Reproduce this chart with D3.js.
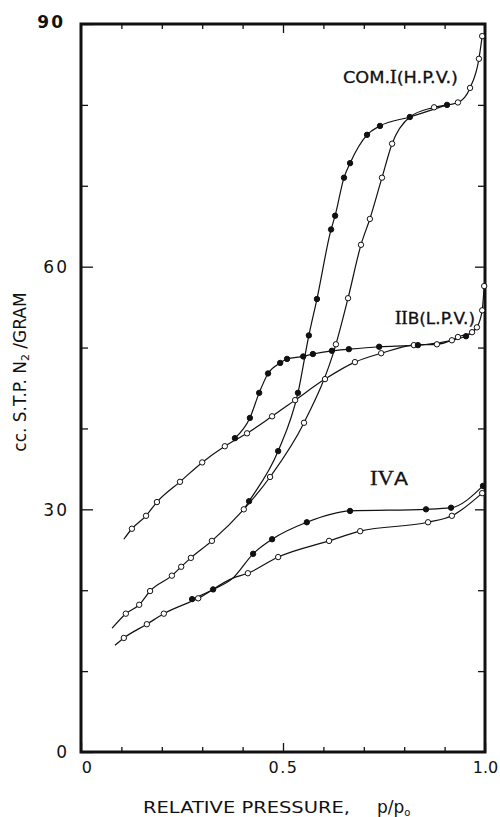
<!DOCTYPE html>
<html><head><meta charset="utf-8">
<script src="https://cdn.jsdelivr.net/npm/d3@7/dist/d3.min.js"></script>
<style>body{margin:0;background:#fff}svg{display:block}</style>
</head><body>
<svg id="c" width="500" height="817"></svg>
<script>
// ---- axis data ----
const xMinorTicks = [0.1,0.2,0.3,0.4,0.6,0.7,0.8,0.9];
const xMajorTicks = [0, 0.5, 1.0];
const xTickLabels = ["0", "0.5", "1.0"];
const yMinorTicks = [10,20,40,50,70,80];
const yMajorTicks = [0, 30, 60, 90];
const yTickLabels = ["0", "30", "60", "90"];

// ---- COM.I (H.P.V.) ----  [p/p0, cc STP N2/g]
const comI_ads = [[0.111,17.1],[0.144,18.2],[0.171,19.9],[0.225,21.8],[0.248,22.9],[0.272,24.0],
  [0.324,26.1],[0.403,30.0],[0.468,34.0],[0.552,40.7],[0.631,50.4],[0.661,56.1],[0.693,62.7],
  [0.715,65.9],[0.745,71.0],[0.770,75.2],[0.874,79.7],[0.933,80.3],[0.963,82.1],[0.985,85.7],[0.993,88.5]];
const comI_adsCurve = [[0.077,15.3],[0.814,78.5]];
const comI_des = [[0.416,31.0],[0.488,37.2],[0.537,44.4],[0.564,51.5],[0.584,56.0],[0.619,64.6],
  [0.629,66.3],[0.651,71.0],[0.666,72.8],[0.708,76.3],[0.740,77.4],[0.814,78.5],[0.906,80.0]];
const comI_desCurve = [[0.403,30.0]];

// ---- IIB (L.P.V.) ----
const iib_ads = [[0.126,27.6],[0.161,29.2],[0.188,30.9],[0.245,33.4],[0.300,35.8],[0.356,37.8],
  [0.411,39.4],[0.473,41.5],[0.530,43.5],[0.604,46.1],[0.678,48.2],[0.743,49.3],[0.824,50.3],
  [0.881,50.4],[0.918,50.9],[0.933,51.3],[0.968,51.9],[0.980,52.5],[0.993,54.6],[0.998,57.6]];
const iib_adsCurve = [[0.106,26.3]];
const iib_des = [[0.381,38.8],[0.418,41.3],[0.441,44.4],[0.463,46.8],[0.493,48.1],[0.510,48.6],
  [0.550,48.9],[0.574,49.2],[0.621,49.6],[0.663,49.8],[0.738,50.1],[0.834,50.3],[0.953,51.4]];
const iib_desCurve = [[0.980,52.5]];

// ---- IVA ----
const iva_ads = [[0.106,14.1],[0.163,15.8],[0.205,17.1],[0.290,19.0],[0.413,22.1],[0.488,24.1],
  [0.614,26.1],[0.691,27.3],[0.859,28.4],[0.918,29.2],[0.993,32.0]];
const iva_adsCurve = [[0.084,13.2],[0.376,21.5]];
const iva_des = [[0.275,18.9],[0.327,20.1],[0.426,24.5],[0.473,26.3],[0.559,28.4],[0.666,29.8],
  [0.854,30.0],[0.916,30.2],[0.995,32.9]];
const iva_desCurve = [[0.376,21.5]];

const seriesLabels = ["COM.I(H.P.V.)", "IIB(L.P.V.)", "IVA"];

// ---- drawing ----
const svg = d3.select("#c");
const L = 81, R = 485, T = 24, B = 752;
const x = d3.scaleLinear().domain([0, 1]).range([L, R]);
const y = d3.scaleLinear().domain([0, 90]).range([B, T]);
const FONT = "DejaVu Sans, sans-serif";
const SERIF = "Liberation Serif, DejaVu Serif, serif";

function clean(g){ g.select(".domain").remove(); g.selectAll("line").attr("stroke","#111").attr("stroke-width",1.3); }
svg.append("g").attr("transform",`translate(0,${B})`)
  .call(d3.axisBottom(x).tickValues(xMinorTicks).tickSize(-5).tickFormat("")).call(clean);
svg.append("g").attr("transform",`translate(0,${B})`)
  .call(d3.axisBottom(x).tickValues(xMajorTicks).tickSize(-9).tickPadding(10)
    .tickFormat((d,i)=>xTickLabels[i])).call(clean)
  .selectAll("text").attr("font-family",FONT).attr("font-size",16)
  .attr("letter-spacing",(d,i)=> i===2 ? 0 : 1.5)
  .attr("fill","#111").attr("dx",(d,i)=> i===0 ? 6 : 0);
svg.append("g").attr("transform",`translate(0,${T})`)
  .call(d3.axisTop(x).tickValues(xMinorTicks).tickSize(-5).tickFormat("")).call(clean);
svg.append("g").attr("transform",`translate(0,${T})`)
  .call(d3.axisTop(x).tickValues([0.5]).tickSize(-9).tickFormat("")).call(clean);

svg.append("g").attr("transform",`translate(${L},0)`)
  .call(d3.axisLeft(y).tickValues(yMinorTicks).tickSize(-7).tickFormat("")).call(clean);
const yl = svg.append("g").attr("transform",`translate(${L},0)`)
  .call(d3.axisLeft(y).tickValues(yMajorTicks).tickSize(-12).tickPadding(12)
    .tickFormat((d,i)=>yTickLabels[i])).call(clean);
yl.selectAll("text").attr("font-family",FONT).attr("font-size",17).attr("letter-spacing",2)
  .attr("fill","#111")
  .attr("font-weight",d=> d===90 ? "bold" : "normal")
  .attr("dx",d=> d===90 ? -4 : 0).attr("dy",d=> d===90 ? "0.2em" : "0.35em");
svg.append("g").attr("transform",`translate(${R},0)`)
  .call(d3.axisRight(y).tickValues(yMinorTicks).tickSize(-7).tickFormat("")).call(clean);
svg.append("g").attr("transform",`translate(${R},0)`)
  .call(d3.axisRight(y).tickValues([30,60]).tickSize(-10).tickFormat("")).call(clean);

// frame
svg.append("rect").attr("x",L).attr("y",T).attr("width",R-L).attr("height",B-T)
  .attr("fill","none").attr("stroke","#111").attr("stroke-width",3);

// curves
const line = d3.line().x(d=>x(d[0])).y(d=>y(d[1])).curve(d3.curveMonotoneX);
const branches = [
  {pts: comI_ads, extra: comI_adsCurve, filled:false},
  {pts: comI_des, extra: comI_desCurve, filled:true},
  {pts: iib_ads, extra: iib_adsCurve, filled:false},
  {pts: iib_des, extra: iib_desCurve, filled:true},
  {pts: iva_ads, extra: iva_adsCurve, filled:false},
  {pts: iva_des, extra: iva_desCurve, filled:true}
];
branches.forEach(b=>{
  const path = b.pts.concat(b.extra).sort((a,c)=>a[0]-c[0]);
  svg.append("path").attr("d",line(path)).attr("fill","none")
    .attr("stroke","#111").attr("stroke-width",1.2);
});
branches.forEach(b=>{
  svg.append("g").selectAll("circle").data(b.pts).join("circle")
    .attr("cx",d=>x(d[0])).attr("cy",d=>y(d[1])).attr("r",2.7)
    .attr("fill",b.filled ? "#111" : "#fff").attr("stroke","#111").attr("stroke-width",1);
});

// series labels
const t1 = svg.append("text").attr("x",343).attr("y",83).attr("font-family",FONT)
  .attr("font-size",16).attr("fill","#111").attr("stroke","#111").attr("stroke-width",0.3)
  .attr("textLength",115).attr("lengthAdjust","spacingAndGlyphs");
t1.append("tspan").text("COM.");
t1.append("tspan").attr("font-family",SERIF).attr("font-size",18).text("I");
t1.append("tspan").text("(H.P.V.)");

const t2 = svg.append("text").attr("x",395).attr("y",324).attr("font-family",FONT)
  .attr("font-size",16).attr("fill","#111").attr("stroke","#111").attr("stroke-width",0.3)
  .attr("textLength",80).attr("lengthAdjust","spacingAndGlyphs");
t2.append("tspan").attr("font-family",SERIF).attr("font-size",18).text("II");
t2.append("tspan").text("B(L.P.V.)");

const t3 = svg.append("text").attr("x",370).attr("y",485).attr("font-family",FONT)
  .attr("font-size",18).attr("fill","#111").attr("stroke","#111").attr("stroke-width",0.3)
  .attr("textLength",38).attr("lengthAdjust","spacingAndGlyphs");
t3.append("tspan").attr("font-family",SERIF).attr("font-size",20).text("IV");
t3.append("tspan").text("A");

// axis titles
const xt = svg.append("text").attr("x",143).attr("y",813).attr("font-family",FONT)
  .attr("font-size",16).attr("fill","#111");
xt.append("tspan").attr("textLength",207).attr("lengthAdjust","spacingAndGlyphs").text("RELATIVE PRESSURE,");
xt.append("tspan").attr("x",377).attr("font-size",17).text("p/p");
xt.append("tspan").attr("font-size",10).attr("dy",3).text("o");

const yt = svg.append("text").attr("transform","translate(26,372) rotate(-90)")
  .attr("text-anchor","middle").attr("font-family",FONT).attr("font-size",17).attr("fill","#111");
yt.append("tspan").text("cc.  S.T.P. N");
yt.append("tspan").attr("font-size",11).attr("dy",3).text("2");
yt.append("tspan").attr("dy",-3).text(" /GRAM");
</script>
</body></html>
